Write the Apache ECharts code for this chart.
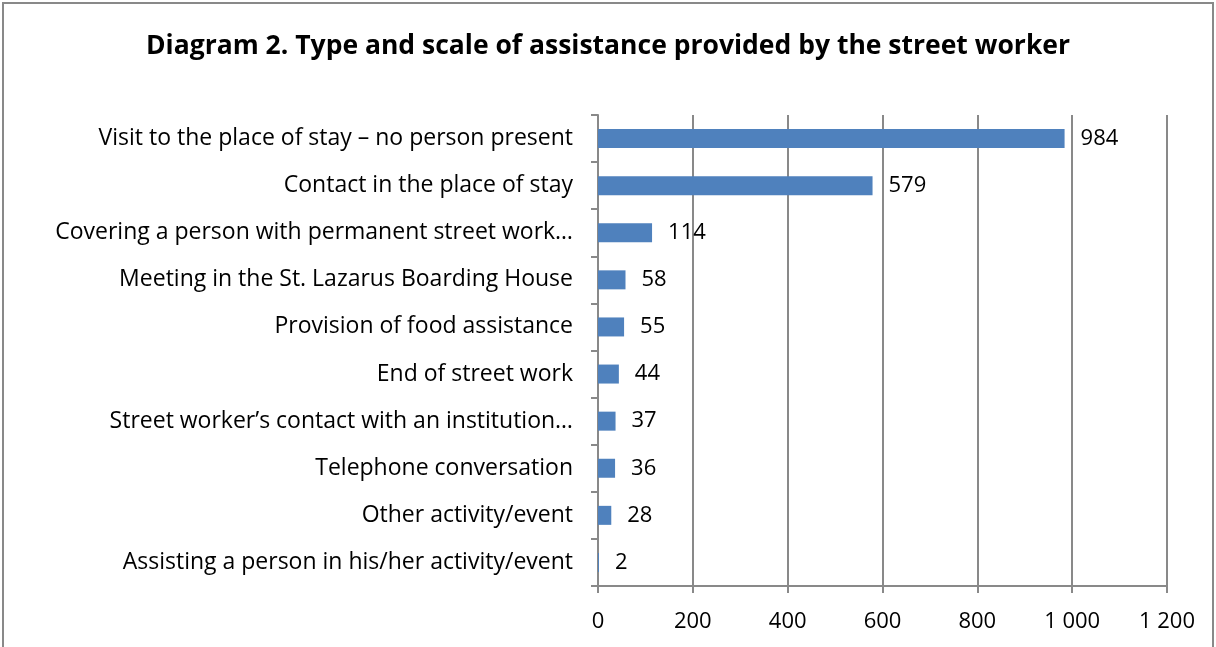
<!DOCTYPE html>
<html>
<head>
<meta charset="utf-8">
<script src="https://cdn.jsdelivr.net/npm/echarts@6/dist/echarts.min.js"></script>
<style>
html,body{margin:0;padding:0;background:#fff;}
#chart{width:1216px;height:647px;}
</style>
</head>
<body>
<div id="chart"></div>
<script>
const titleText = 'Diagram 2. Type and scale of assistance provided by the street worker';
const categories = [
  'Visit to the place of stay \u2013 no person present',
  'Contact in the place of stay',
  'Covering a person with permanent street work\u2026',
  'Meeting in the St. Lazarus Boarding House',
  'Provision of food assistance',
  'End of street work',
  'Street worker\u2019s contact with an institution\u2026',
  'Telephone conversation',
  'Other activity/event',
  'Assisting a person in his/her activity/event'
];
const values = [984, 579, 114, 58, 55, 44, 37, 36, 28, 2];
const xTicks = {min: 0, max: 1200, interval: 200};

const fontFam = '"Open Sans", "Noto Sans", sans-serif';
const gray = '#898989';
function fmt(v){ return String(v).replace(/\B(?=(\d{3})+(?!\d))/g, ' '); }

const chart = echarts.init(document.getElementById('chart'));
chart.setOption({
  animation: false,
  backgroundColor: '#fff',
  title: {
    text: titleText,
    left: 'center',
    top: 28,
    textStyle: {fontFamily: fontFam, fontWeight: 'bold', fontSize: 26.5, color: '#000'}
  },
  graphic: [{
    type: 'rect',
    shape: {x: 3, y: 3, width: 1210, height: 700},
    style: {fill: 'none', stroke: gray, lineWidth: 2},
    silent: true
  }],
  grid: {left: 598, right: 49, top: 115, bottom: 61, containLabel: false},
  xAxis: {
    type: 'value',
    min: xTicks.min, max: xTicks.max, interval: xTicks.interval,
    axisLine: {show: true, lineStyle: {color: gray, width: 2}},
    axisTick: {show: true, length: 7, lineStyle: {color: gray, width: 2}},
    splitLine: {show: true, lineStyle: {color: gray, width: 2}},
    axisLabel: {fontFamily: fontFam, fontSize: 22, color: '#000', margin: 25, formatter: fmt}
  },
  yAxis: {
    type: 'category',
    data: categories,
    inverse: true,
    axisLine: {show: true, lineStyle: {color: gray, width: 2}},
    axisTick: {show: true, length: 7, lineStyle: {color: gray, width: 2}},
    axisLabel: {fontFamily: fontFam, fontSize: 23, color: '#000', margin: 25, padding: [3, 0, 0, 0]}
  },
  series: [{
    type: 'bar',
    data: values,
    barWidth: 19,
    itemStyle: {color: '#4f81bd'},
    label: {
      show: true, position: 'right', distance: 16,
      fontFamily: fontFam, fontSize: 22, color: '#000', padding: [3, 0, 0, 0], formatter: p => fmt(p.value)
    }
  }]
});
</script>
</body>
</html>
